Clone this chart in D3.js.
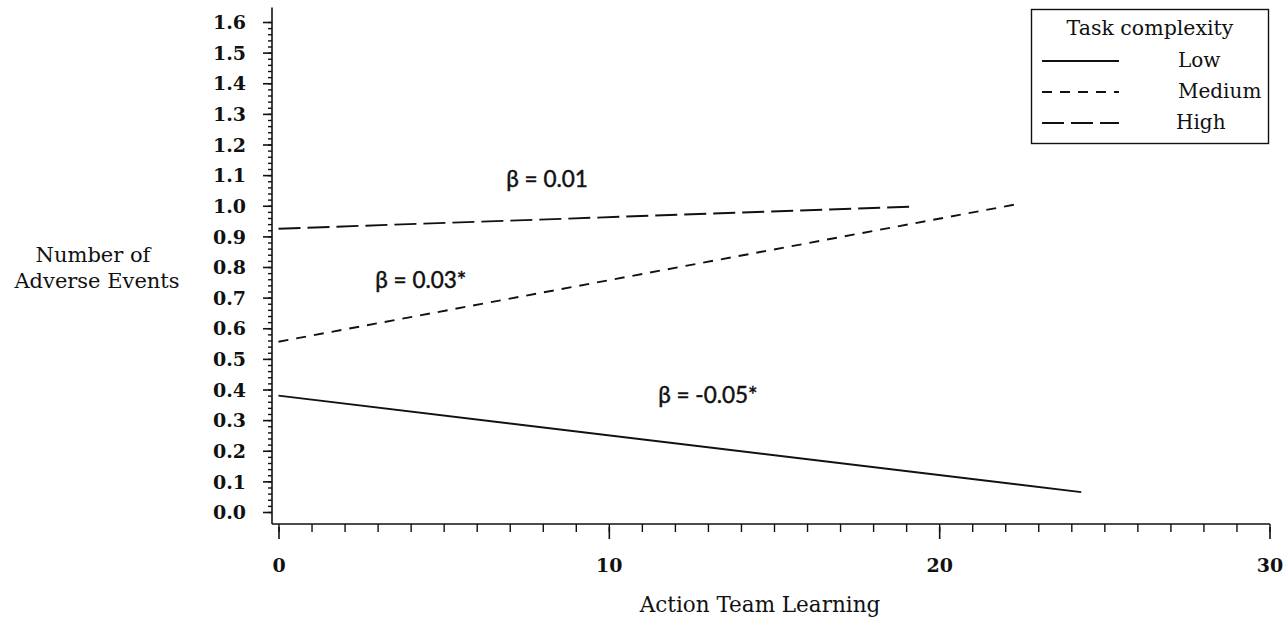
<!DOCTYPE html>
<html>
<head>
<meta charset="utf-8">
<script src="https://cdn.jsdelivr.net/npm/d3@7/dist/d3.min.js"></script>
<style>
  html, body { margin: 0; padding: 0; background: #fff; }
  svg { display: block; }
  .serif { font-family: "DejaVu Serif", "Liberation Serif", serif; fill: #111; }
  .tick-label { font-family: "DejaVu Serif", serif; font-weight: bold; font-size: 19px; fill: #111; }
  .beta { font-family: "Lato", "Open Sans", "Noto Sans", sans-serif; font-size: 22.5px; fill: #111; stroke: #111; stroke-width: 0.45px; }
</style>
</head>
<body>
<svg id="chart" width="1284" height="621"></svg>
<script>
// Predicted adverse events by action team learning, per task-complexity level
const seriesNames = ["Low", "Medium", "High"];
const lowX = [0, 24.3];
const lowY = [0.38, 0.065];
const mediumX = [0, 22.4];
const mediumY = [0.556, 1.006];
const highX = [0, 19.1];
const highY = [0.925, 0.997];
const betaLabels = ["β = -0.05*", "β = 0.03*", "β = 0.01"];
const betaPos = [[13.0, 0.356], [4.31, 0.731], [8.13, 1.061]]; // [x, y] in data units (text baseline)

const yMajorTicks = [0, 0.1, 0.2, 0.3, 0.4, 0.5, 0.6, 0.7, 0.8, 0.9, 1.0, 1.1, 1.2, 1.3, 1.4, 1.5, 1.6];
const xMajorTicks = [0, 10, 20, 30];

const svg = d3.select("#chart");

const x = d3.scaleLinear().domain([0, 30]).range([278.5, 1269.5]);
const y = d3.scaleLinear().domain([0, 1.6]).range([512, 22]);

const axisX0 = 272, axisY0 = 524;
const ink = "#111";

// Axis lines
svg.append("line").attr("x1", axisX0).attr("x2", axisX0)
  .attr("y1", y(1.647)).attr("y2", axisY0)
  .attr("stroke", ink).attr("stroke-width", 1.6);
svg.append("line").attr("x1", axisX0).attr("x2", x(30) + 0.5)
  .attr("y1", axisY0).attr("y2", axisY0)
  .attr("stroke", ink).attr("stroke-width", 1.6);

// Y axis: minor ticks every 0.02, major ticks with labels every 0.1
const yMinor = d3.range(0, 81).map(i => i * 0.02);
const yAxisMinor = d3.axisLeft(y).tickValues(yMinor).tickSize(4).tickFormat("");
const gyMinor = svg.append("g").attr("transform", `translate(${axisX0},0)`).call(yAxisMinor);
gyMinor.select(".domain").remove();
gyMinor.selectAll("line").attr("stroke", ink).attr("stroke-width", 1.4);

const yAxisMajor = d3.axisLeft(y).tickValues(yMajorTicks).tickSize(9).tickFormat(d3.format(".1f"));
const gyMajor = svg.append("g").attr("transform", `translate(${axisX0},0)`).call(yAxisMajor);
gyMajor.select(".domain").remove();
gyMajor.selectAll("line").attr("stroke", ink).attr("stroke-width", 1.6);
gyMajor.selectAll("text").attr("class", "tick-label").attr("dy", "0.35em").attr("x", -26);

// X axis: minor ticks every 1, major ticks with labels every 10
const xMinor = d3.range(0, 31);
const xAxisMinor = d3.axisBottom(x).tickValues(xMinor).tickSize(8).tickFormat("");
const gxMinor = svg.append("g").attr("transform", `translate(0,${axisY0})`).call(xAxisMinor);
gxMinor.select(".domain").remove();
gxMinor.selectAll("line").attr("stroke", ink).attr("stroke-width", 1.4);

const xAxisMajor = d3.axisBottom(x).tickValues(xMajorTicks).tickSize(15).tickFormat(d3.format("d"));
const gxMajor = svg.append("g").attr("transform", `translate(0,${axisY0})`).call(xAxisMajor);
gxMajor.select(".domain").remove();
gxMajor.selectAll("line").attr("stroke", ink).attr("stroke-width", 1.6).attr("y1", 3);
gxMajor.selectAll("text").attr("class", "tick-label").attr("y", 41).attr("dy", "0.35em");

// Axis titles
svg.append("text").attr("class", "serif").attr("x", 760).attr("y", 612)
  .attr("text-anchor", "middle").attr("font-size", 21.5).text("Action Team Learning");
const yTitle = svg.append("text").attr("class", "serif").attr("text-anchor", "middle").attr("font-size", 21);
yTitle.append("tspan").attr("x", 93).attr("y", 262).text("Number of");
yTitle.append("tspan").attr("x", 97).attr("y", 288).text("Adverse Events");

// Regression lines
const dashes = { Low: null, Medium: "10,8", High: "22,7" };
const series = [
  { name: "Low", xs: lowX, ys: lowY },
  { name: "Medium", xs: mediumX, ys: mediumY },
  { name: "High", xs: highX, ys: highY }
];
const line = d3.line().x(d => x(d[0])).y(d => y(d[1]));
series.forEach(s => {
  const pts = s.xs.map((v, i) => [v, s.ys[i]]);
  svg.append("path").attr("d", line(pts))
    .attr("fill", "none").attr("stroke", ink).attr("stroke-width", 1.9)
    .attr("stroke-dasharray", dashes[s.name]);
});

// Slope annotations
betaLabels.forEach((t, i) => {
  svg.append("text").attr("class", "beta")
    .attr("x", x(betaPos[i][0])).attr("y", y(betaPos[i][1]))
    .attr("text-anchor", "middle").text(t);
});

// Legend
const lg = svg.append("g");
lg.append("rect").attr("x", 1031.5).attr("y", 9.5).attr("width", 237).attr("height", 134)
  .attr("fill", "#fff").attr("stroke", ink).attr("stroke-width", 1.4);
lg.append("text").attr("class", "serif").attr("x", 1150).attr("y", 35)
  .attr("text-anchor", "middle").attr("font-size", 20.5).text("Task complexity");
seriesNames.forEach((n, i) => {
  const yy = 61 + i * 31;
  lg.append("line").attr("x1", 1042).attr("x2", 1119).attr("y1", yy).attr("y2", yy)
    .attr("stroke", ink).attr("stroke-width", 1.9).attr("stroke-dasharray", dashes[n]);
  lg.append("text").attr("class", "serif").attr("x", n === "High" ? 1176 : 1178)
    .attr("y", yy + 6).attr("font-size", 20).text(n);
});
</script>
</body>
</html>
